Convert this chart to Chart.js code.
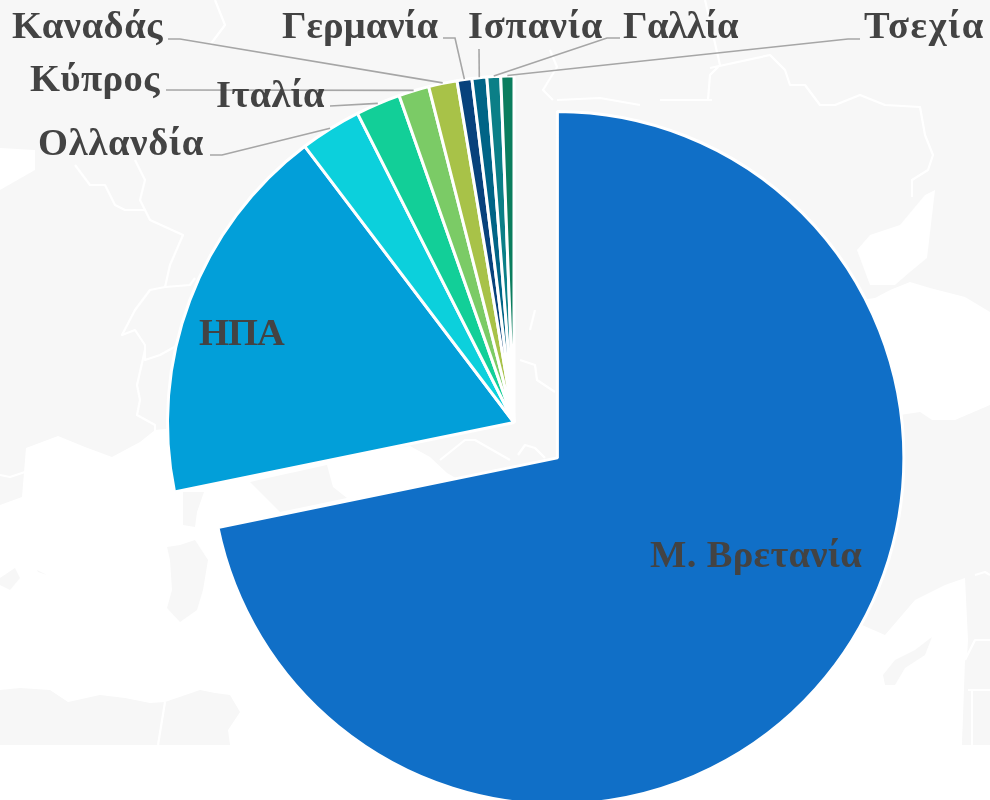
<!DOCTYPE html>
<html lang="el">
<head>
<meta charset="utf-8">
<title>Χώρες</title>
<script src="https://cdn.jsdelivr.net/npm/chart.js"></script>
<style>
    html, body { margin: 0; padding: 0; background: #fff; overflow: hidden; }
    #wrap { position: relative; width: 990px; height: 800px; overflow: hidden; }
    #map { position: absolute; left: 0; top: 0; width: 990px; height: 800px; }
    /* the exploded slice needs a taller box than the page, the rest is cut off by #wrap */
    #chart { position: absolute; left: 0; top: -38px; width: 990px; height: 923px; }
    #map .sea { fill: #fff; }
    #map .land { fill: #f7f7f7; }
    #map .border { fill: none; stroke: #fff; stroke-width: 2.2; stroke-linejoin: round; }
</style>
</head>
<body>
<div id="wrap">
    <!-- faded map behind the pie -->
    <svg id="map" viewBox="0 0 990 800">
        <rect class="land" x="0" y="0" width="990" height="745"></rect>
        <path class="sea" d="M0,505 L22,497 26,448 58,436 85,447 112,457 140,442 155,430 175,428 240,470 410,446 430,457 447,473 600,560 800,600 862,625 885,635 915,600 945,585 965,578 968,640 962,745 990,745 990,800 0,800 0,745 230,745 228,730 240,712 230,695 215,693 200,690 165,702 150,703 125,698 100,695 68,702 50,690 20,688 0,690 Z"></path>
        <path class="sea" d="M0,148 L35,150 35,170 0,190 Z"></path>
        <path class="sea" d="M857,250 L870,235 900,225 925,195 935,190 927,258 910,272 895,285 870,285 Z"></path>
        <path class="sea" d="M860,300 L875,298 890,290 910,282 930,288 965,297 990,312 990,405 955,420 932,420 920,412 900,415 870,400 Z"></path>
        <path class="land" d="M250,482 L327,465 333,487 347,498 280,512 Z"></path>
        <path class="land" d="M183,492 L204,492 197,512 195,527 183,525 Z"></path>
        <path class="land" d="M167,547 L180,545 195,540 208,560 203,590 197,610 180,622 167,608 172,590 170,560 Z"></path>
        <path class="land" d="M0,578 L15,568 20,578 10,590 0,585 Z M37,570 L47,575 38,572 Z"></path>
        <path class="land" d="M883,675 L895,660 915,650 932,637 925,655 905,668 895,685 885,685 Z"></path>
        <path class="land" d="M962,745 L965,660 975,640 990,620 990,745 Z"></path>
        <path class="border" d="M705,0 L720,65 710,75 708,100 M710,68 L770,55 785,70 790,85 805,85 820,105 835,105 860,95 885,105 920,107 925,135 933,155 928,170 912,180 912,197"></path>
        <path class="border" d="M660,100 L680,100 712,100"></path>
        <path class="border" d="M75,165 L90,185 105,185 115,205 125,210 145,210"></path>
        <path class="border" d="M135,160 L145,180 140,200 145,210 150,220 183,235 170,265 165,287 190,285 195,278"></path>
        <path class="border" d="M165,287 L150,290 135,310 122,335 135,330 145,345 145,360 160,355 178,345"></path>
        <path class="border" d="M145,350 L137,385 140,400 137,415 155,425 155,432"></path>
        <path class="border" d="M0,475 L10,477 25,472"></path>
        <path class="border" d="M165,702 L158,745"></path>
        <path class="border" d="M215,0 L225,25 210,45"></path>
        <path class="border" d="M550,50 L557,67 543,90 553,100 M557,100 L600,98 640,105"></path>
        <path class="border" d="M530,330 L535,310 M520,360 L535,365 537,380 555,392"></path>
        <path class="border" d="M440,460 L465,440 475,440 510,460 M518,455 L525,445 535,448 545,458"></path>
        <path class="border" d="M965,660 L975,640 990,640 M975,575 L985,572 990,575 M968,690 L990,690 M972,690 L972,745"></path>
    </svg>
    <canvas id="chart" width="990" height="923"></canvas>
</div>
<script>
    var categories = ['Μ. Βρετανία', 'ΗΠΑ', 'Ολλανδία', 'Ιταλία', 'Κύπρος', 'Καναδάς', 'Γερμανία', 'Ισπανία', 'Γαλλία', 'Τσεχία'];
    var shares = [71.8, 17.9, 2.86, 2.08, 1.42, 1.33, 0.69, 0.69, 0.64, 0.61];
    var sliceColors = ['#106fc7', '#029fd9', '#0cd0dc', '#12cf98', '#7bcb66', '#a8c248', '#08427c', '#006486', '#0b7f87', '#0b7d5e'];
    // Chart.js moves a slice by a quarter of this value
    var sliceOffsets = [224, 0, 0, 0, 0, 0, 0, 0, 0, 0];

    // where each label sits on the page: left edge, baseline and measured width
    var labelX = [650, 199, 38, 216, 30, 12, 282, 468, 623, 864];
    var labelY = [567, 345, 155, 107, 91, 38, 38, 38, 38, 38];
    var labelWidth = [212, 85, 166, 109, 130, 151, 156, 135, 115, 121];

    // leader line points before it runs to the rim, null = label is inside the slice
    var leaderPoints = [
        null,
        null,
        [[210, 155], [222, 155]],
        [[330, 106]],
        [[166, 90]],
        [[168, 39], [180, 39]],
        [[443, 38], [455, 38]],
        [[479, 49]],
        [[620, 38], [607, 38]],
        [[860, 39], [848, 39]]
    ];

    var canvasShift = 38;

    // an offset slice wider than a half circle is drawn bigger and slightly narrower, take that back
    var keepShapePlugin = {
        id: 'keepShape',
        afterDatasetsUpdate: function(chart) {
            chart.getDatasetMeta(0).data.forEach(function(arc, i) {
                var offset = sliceOffsets[i] / 4;
                if (!offset) return;
                var d = offset / (2 * Math.PI * arc.outerRadius);
                if (arc.circumference >= Math.PI) {
                    arc.outerRadius -= offset;
                }
                arc.startAngle -= d;
                arc.endAngle += d;
                arc.circumference += 2 * d;
            });
        }
    };

    var labelPlugin = {
        id: 'pieLabels',
        afterDatasetsDraw: function(chart) {
            var ctx = chart.ctx;
            var arcs = chart.getDatasetMeta(0).data;

            ctx.save();
            ctx.translate(0, canvasShift);
            ctx.strokeStyle = '#a6a6a6';
            ctx.lineWidth = 1.6;
            arcs.forEach(function(arc, i) {
                var points = leaderPoints[i];
                if (!points) return;
                var mid = (arc.startAngle + arc.endAngle) / 2;
                var r = arc.outerRadius + 0.5;
                ctx.beginPath();
                ctx.moveTo(points[0][0], points[0][1]);
                points.slice(1).forEach(function(p) {
                    ctx.lineTo(p[0], p[1]);
                });
                ctx.lineTo(arc.x + Math.cos(mid) * r, arc.y - canvasShift + Math.sin(mid) * r);
                ctx.stroke();
            });

            ctx.font = 'bold 38.5px "Liberation Serif", serif';
            ctx.fillStyle = '#434343';
            ctx.textAlign = 'left';
            ctx.textBaseline = 'alphabetic';
            categories.forEach(function(name, i) {
                ctx.letterSpacing = '0px';
                var extra = (labelWidth[i] - ctx.measureText(name).width) / name.length;
                ctx.letterSpacing = extra + 'px';
                ctx.fillText(name, labelX[i], labelY[i]);
            });
            ctx.restore();
        }
    };

    new Chart(document.getElementById('chart').getContext('2d'), {
        type: 'pie',
        data: {
            labels: categories,
            datasets: [{
                data: shares,
                backgroundColor: sliceColors,
                borderColor: '#ffffff',
                borderWidth: 3,
                offset: sliceOffsets
            }]
        },
        options: {
            responsive: false,
            animation: false,
            layout: {
                padding: { left: 54, right: 16, top: 0.5, bottom: 2.5 }
            },
            plugins: {
                legend: { display: false },
                tooltip: { enabled: false }
            }
        },
        plugins: [keepShapePlugin, labelPlugin]
    });
</script>
</body>
</html>
